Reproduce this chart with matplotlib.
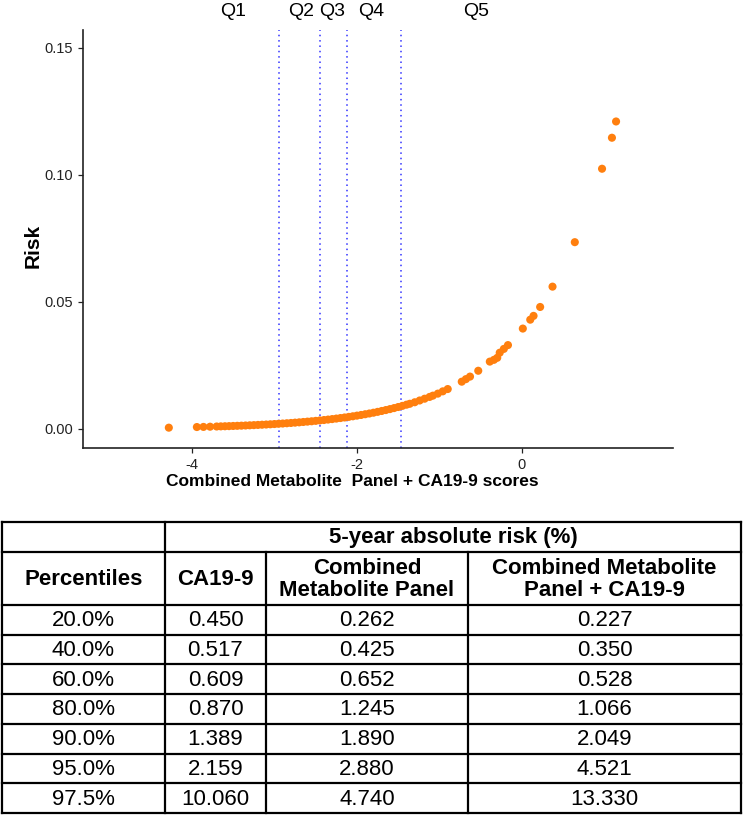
import matplotlib.pyplot as plt
from matplotlib.transforms import blended_transform_factory

# ---------------------------------------------
# Data
# ---------------------------------------------
score = [-4.28, -3.94, -3.86, -3.78,
         -3.70, -3.65, -3.60, -3.55, -3.50, -3.45, -3.40, -3.35, -3.30, -3.25,
         -3.20, -3.15, -3.10, -3.05, -3.00, -2.95, -2.90, -2.85, -2.80, -2.75,
         -2.70, -2.65, -2.60, -2.55, -2.50, -2.45, -2.40, -2.35, -2.30, -2.25,
         -2.20, -2.15, -2.10, -2.05, -2.00, -1.95, -1.90, -1.85, -1.80, -1.75,
         -1.70, -1.65, -1.60, -1.55, -1.50, -1.45, -1.40,
         -1.36, -1.30, -1.24, -1.18, -1.12,
         -1.08, -1.02, -0.96, -0.90,
         -0.73, -0.68, -0.63, -0.53,
         -0.39, -0.34, -0.30, -0.27, -0.22, -0.17,
         0.01, 0.10, 0.14, 0.22, 0.37, 0.64, 0.97, 1.09, 1.14]
risk = [0.00050, 0.00075, 0.00080, 0.00088,
        0.00096, 0.00101, 0.00106, 0.00111, 0.00117, 0.00123, 0.00129, 0.00136, 0.00143, 0.00150,
        0.00158, 0.00166, 0.00174, 0.00183, 0.00193, 0.00203, 0.00213, 0.00224, 0.00235, 0.00248,
        0.00260, 0.00274, 0.00288, 0.00302, 0.00318, 0.00334, 0.00351, 0.00369, 0.00388, 0.00408,
        0.00429, 0.00451, 0.00474, 0.00498, 0.00524, 0.00550, 0.00579, 0.00608, 0.00639, 0.00672,
        0.00707, 0.00743, 0.00781, 0.00821, 0.00863, 0.00907, 0.00954,
        0.0099, 0.0105, 0.0112, 0.0119, 0.0126,
        0.0131, 0.0139, 0.0148, 0.0157,
        0.0186, 0.0196, 0.0206, 0.0229,
        0.0265, 0.0272, 0.0280, 0.0300, 0.0315, 0.0330,
        0.0395, 0.0430, 0.0445, 0.0480, 0.0560, 0.0735, 0.1024, 0.1146, 0.1210]

cutoffs = [-2.945, -2.448, -2.12, -1.467]
q_labels = ["Q1", "Q2", "Q3", "Q4", "Q5"]
q_pos = [-3.50, -2.68, -2.30, -1.83, -0.55]

percentiles = ["20.0%", "40.0%", "60.0%", "80.0%", "90.0%", "95.0%", "97.5%"]
ca199 = ["0.450", "0.517", "0.609", "0.870", "1.389", "2.159", "10.060"]
metab = ["0.262", "0.425", "0.652", "1.245", "1.890", "2.880", "4.740"]
combined = ["0.227", "0.350", "0.528", "1.066", "2.049", "4.521", "13.330"]
col_headers = ["Percentiles", "CA19-9", "Combined\nMetabolite Panel",
               "Combined Metabolite\nPanel + CA19-9"]
span_header = "5-year absolute risk (%)"

plt.rcParams["font.family"] = ["Liberation Sans", "DejaVu Sans"]
tbl_font = ["Liberation Sans Narrow", "Liberation Sans", "DejaVu Sans"]

W, H = 743, 815
fig = plt.figure(figsize=(W / 100, H / 100), dpi=100)

# =============================================
# Scatter plot
# =============================================
ax = fig.add_axes([83 / W, 1 - 448 / H, 590 / W, 418 / H])
ax.scatter(score, risk, s=34, color="#ff7f0e", edgecolors="none", zorder=3)
for c in cutoffs:
    ax.axvline(c, color="#3333ff", linestyle=(0, (1, 2.5)), lw=1.1, zorder=2)

trans = blended_transform_factory(ax.transData, ax.transAxes)
for lab, xp in zip(q_labels, q_pos):
    ax.text(xp, 1.045, lab, transform=trans, ha="center", va="center",
            fontsize=14, clip_on=False)

ax.set_xlim(-5.32, 1.83)
ax.set_ylim(-0.0075, 0.157)
ax.set_xticks([-4, -2, 0])
ax.set_xticklabels(["-4", "-2", "0"])
ax.set_yticks([0, 0.05, 0.10, 0.15])
ax.set_yticklabels(["0.00", "0.05", "0.10", "0.15"])
ax.tick_params(labelsize=10.5, colors="#222222", length=3.5, width=0.9)
for sp in ["top", "right"]:
    ax.spines[sp].set_visible(False)
for sp in ["left", "bottom"]:
    ax.spines[sp].set_linewidth(1.2)
    ax.spines[sp].set_color("#222222")

fig.text(352 / W, 1 - 481 / H, "Combined Metabolite  Panel + CA19-9 scores",
         ha="center", va="center", fontsize=12.5, fontweight="bold")
fig.text(33 / W, 1 - 246 / H, "Risk", ha="center", va="center",
         rotation=90, fontsize=15, fontweight="bold")

# =============================================
# Table (drawn in pixel coordinates)
# =============================================
tx = fig.add_axes([0, 0, 1, 1], zorder=-1)
tx.set_xlim(0, W)
tx.set_ylim(H, 0)
tx.axis("off")

col_x = [2, 165, 266, 468, 741]
top, hdr1, hdr2 = 522, 552, 605
row_h = 29.7
n_rows = len(percentiles)
bottom = hdr2 + row_h * n_rows

lw = 1.6
tx.plot([col_x[0], col_x[-1]], [top, top], color="black", lw=lw)
tx.plot([col_x[0], col_x[-1]], [hdr1, hdr1], color="black", lw=lw)
tx.plot([col_x[0], col_x[-1]], [hdr2, hdr2], color="black", lw=lw)
for i in range(1, n_rows + 1):
    yy = hdr2 + row_h * i
    tx.plot([col_x[0], col_x[-1]], [yy, yy], color="black", lw=lw)
for j, xx in enumerate(col_x):
    y0 = top if j in (0, 1, 4) else hdr1
    tx.plot([xx, xx], [y0, bottom], color="black", lw=lw)

fs = 16
tx.text((col_x[1] + col_x[-1]) / 2, (top + hdr1) / 2 + 1, span_header,
        ha="center", va="center", fontsize=fs, fontweight="bold", family=tbl_font)
for j, h in enumerate(col_headers):
    tx.text((col_x[j] + col_x[j + 1]) / 2, (hdr1 + hdr2) / 2 + 1, h,
            ha="center", va="center", fontsize=fs, fontweight="bold",
            family=tbl_font, linespacing=1.1)

cols = [percentiles, ca199, metab, combined]
for i in range(n_rows):
    yc = hdr2 + row_h * (i + 0.5) + 1
    for j, col in enumerate(cols):
        tx.text((col_x[j] + col_x[j + 1]) / 2, yc, col[i],
                ha="center", va="center", fontsize=fs, family=tbl_font)

fig.savefig("out.png", dpi=100)
